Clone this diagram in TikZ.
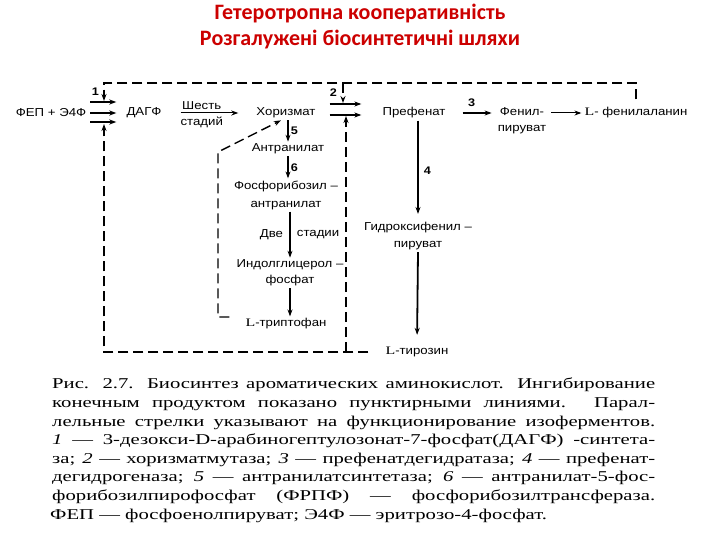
\documentclass[tikz,border=0pt]{standalone}
\usepackage{fontspec}
\setmainfont{Liberation Serif}
\newfontfamily\diafont[FakeStretch=1.15]{Liberation Sans}
\newfontfamily\capfont[FakeStretch=1.38]{Liberation Serif}
\newfontfamily\titlefont{Carlito}
\usetikzlibrary{arrows.meta}
\definecolor{titlered}{RGB}{204,0,0}

\begin{document}
\begin{tikzpicture}[x=1pt, y=-1pt, >={Stealth[length=7pt,width=5pt]},
    every node/.style={font=\diafont\fontsize{11.5}{16}\selectfont, inner sep=2pt},
    enz/.style={->, line width=1.3pt},
    vert/.style={->, line width=1.8pt},
    feedback/.style={line width=2pt, dash pattern=on 10pt off 5pt},
    num/.style={font=\diafont\bfseries\fontsize{11}{13}\selectfont},
    title/.style={font=\titlefont\bfseries\fontsize{22}{26}\selectfont, text=titlered},
    capline/.style={anchor=west, inner sep=0pt, font=\capfont\fontsize{15}{18}\selectfont}]
    \useasboundingbox (0,0) rectangle (720,540);
    \fill[white] (0,0) rectangle (720,540);

    % Заголовок
    \node[title] (t1) at (360,14) {Гетеротропна кооперативність};
    \node[title] (t2) at (360,40) {Розгалужені біосинтетичні шляхи};

    % Основной ряд
    \node (fep) at (51,113) {ФЕП + Э4Ф};
    \node (dagf) at (144,113) {ДАГФ};
    \node (hor) at (286,113) {Хоризмат};
    \node (pref) at (414,113) {Префенат};
    \node[align=center] (fpir) at (522,121) {Фенил-\\пируват};
    \node (phe) at (636,113) {{\capfont L}- фенилаланин};

    % Ветвь триптофана
    \node (antr) at (288,149) {Антранилат};
    \node[align=center, font=\diafont\fontsize{11.5}{18}\selectfont] (fra) at (286,195) {Фосфорибозил –\\антранилат};
    \node[align=center] (igf) at (290,273) {Индолглицерол –\\фосфат};
    \node (trp) at (286,324) {{\capfont L}-триптофан};

    % Ветвь тирозина
    \node[align=center, font=\diafont\fontsize{11.5}{17}\selectfont] (gfp) at (418,236) {Гидроксифенил –\\пируват};
    \node (tyr) at (417,352) {{\capfont L}-тирозин};

    % Изоферменты 1 и 2
    \foreach \dy in {11,0,-9}
        \draw[enz, shorten <=2pt, shorten >=8pt] ([yshift=\dy pt]fep.east) -- ([yshift=\dy pt]dagf.west);
    \foreach \dy in {9,-2}
        \draw[enz, shorten <=12pt, shorten >=19pt] ([yshift=\dy pt]hor.east) -- ([yshift=\dy pt]pref.west);

    % Шесть стадий, 3 и далее
    \draw[enz, line width=1pt, shorten <=17pt, shorten >=16pt] (dagf) -- (hor)
        node[pos=0.42, above=1pt] {Шесть} node[pos=0.42, below=1pt] {стадий};
    \draw[enz, shorten <=15pt, shorten >=4pt] (pref.east) -- (pref.east -| fpir.west)
        node[midway, above=4pt, num] {3};
    \draw[enz, line width=1pt, shorten <=3pt, shorten >=1pt] (fpir.east |- phe.west) -- (phe.west);

    % Вертикальные стрелки
    \draw[vert] (antr.north |- hor.south) -- (antr.north) node[midway, right, num] {5};
    \draw[vert] (antr.south) -- (antr.south |- fra.north) node[midway, right, num] {6};
    \draw[vert] (igf.north |- fra.south) -- (igf.north)
        node[midway, left=4pt] {Две} node[midway, right=4pt] {стадии};
    \draw[vert] (igf.south) -- (igf.south |- trp.north);
    \draw[vert, shorten >=6pt] (pref.south -| gfp.north) -- (gfp.north) node[midway, right=3pt, num] {4};
    \draw[vert, shorten >=10pt] (gfp.south) -- (tyr.north);

    % Ингибирование конечным продуктом (пунктир)
    \coordinate (k1) at (104,83);
    \coordinate (j1) at (104,101);
    \coordinate (j1b) at (104,124);
    \coordinate (j2) at (343,103);
    \coordinate (j2b) at (346,116);
    \coordinate (k3) at (218,152);
    \draw[feedback, ->, shorten <=6pt] (phe.north) |- (k1) -- (j1) node[midway, left=2pt, num] {1};
    \draw[feedback, ->] (j2 |- k1) -- (j2) node[midway, left=3pt, num] {2};
    \draw[feedback, ->, shorten <=15pt] (tyr.west) -| (j1b);
    \draw[feedback, ->] (tyr.west -| j2b) -- (j2b);
    \draw[feedback, ->, line width=1.4pt, shorten <=14pt] ([yshift=7pt]trp.west) -| (k3) -- ([xshift=-5pt]hor.south);

    % Подпись
    \node[capline] (c1) at (52,385) {\makebox[603pt][s]{Рис. 2.7. Биосинтез ароматических аминокислот. Ингибирование}};
    \node[capline] (c2) at (52,404) {\makebox[603pt][s]{конечным продуктом показано пунктирными линиями. Парал-}};
    \node[capline] (c3) at (52,423) {\makebox[603pt][s]{лельные стрелки указывают на функционирование изоферментов.}};
    \node[capline] (c4) at (52,441) {\makebox[603pt][s]{\textit{1} — 3-дезокси-D-арабиногептулозонат-7-фосфат(ДАГФ) -синтета-}};
    \node[capline] (c5) at (52,460) {\makebox[603pt][s]{за; \textit{2} — хоризматмутаза; \textit{3} — префенатдегидратаза; \textit{4} — префенат-}};
    \node[capline] (c6) at (52,478) {\makebox[603pt][s]{дегидрогеназа; \textit{5} — антранилатсинтетаза; \textit{6} — антранилат-5-фос-}};
    \node[capline] (c7) at (52,497) {\makebox[603pt][s]{форибозилпирофосфат (ФРПФ) — фосфорибозилтрансфераза.}};
    \node[capline] (c8) at (50,516) {ФЕП — фосфоенолпируват; Э4Ф — эритрозо-4-фосфат.};
\end{tikzpicture}
\end{document}
